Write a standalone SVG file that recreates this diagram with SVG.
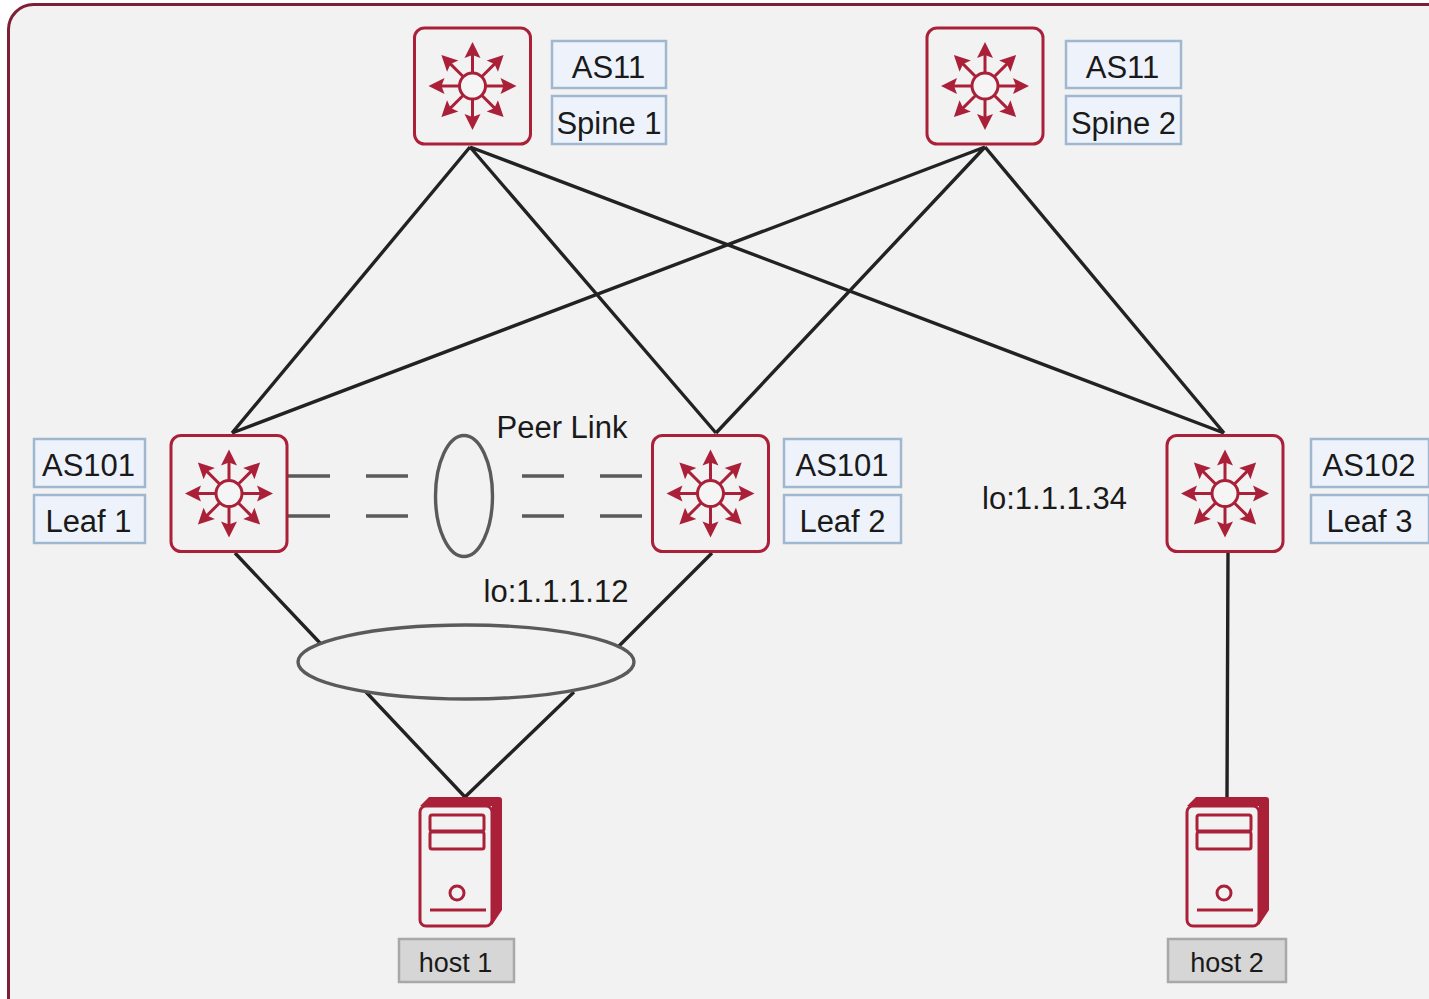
<svg xmlns="http://www.w3.org/2000/svg" width="1429" height="999" viewBox="0 0 1429 999">
<style>
text{font-family:"Liberation Sans",Arial,sans-serif;fill:#1a1a1a;text-anchor:middle}
.l{font-size:31px}
.h{font-size:27px}
.lb{fill:#eef3fb;stroke:#a0b8cf;stroke-width:2.5}
.hb{fill:#d6d6d6;stroke:#a8a8a8;stroke-width:2.5}
.c{fill:none;stroke:#222;stroke-width:3.4}
.g{fill:none;stroke:#5a5a5a;stroke-width:3.4}
.r{fill:none;stroke:#aa2039;stroke-width:3}
</style>
<defs>
<g id="ar"><path d="M13 0H32" fill="none" stroke="#aa2039" stroke-width="3"/><path d="M44 0L28 -8L31 0L28 8Z" fill="#aa2039"/></g>
<g id="sw">
<rect class="r" x="-58" y="-58" width="116" height="116" rx="10"/>
<circle r="13" fill="#f5f5f5" stroke="#aa2039" stroke-width="3"/>
<use href="#ar"/>
<use href="#ar" transform="rotate(45)"/>
<use href="#ar" transform="rotate(90)"/>
<use href="#ar" transform="rotate(135)"/>
<use href="#ar" transform="rotate(180)"/>
<use href="#ar" transform="rotate(225)"/>
<use href="#ar" transform="rotate(270)"/>
<use href="#ar" transform="rotate(315)"/>
</g>
<g id="srv">
<path d="M0 -9L9 -18H79Q82 -18 82 -15V95L72 110V-9Z" fill="#aa2039"/>
<rect x="0" y="-9" width="72" height="120" rx="6" fill="#f2f2f2" stroke="#aa2039" stroke-width="3"/>
<rect class="r" x="10" y="0" width="54" height="16" rx="2"/>
<rect class="r" x="10" y="17" width="54" height="17" rx="2"/>
<circle class="r" cx="37" cy="78" r="7"/>
<path class="r" d="M10 95H66"/>
</g>
</defs>
<rect x="8.500" y="4.500" width="1460" height="1030" rx="25" fill="#f2f2f2" stroke="#7d1f35" stroke-width="3"/>
<g id="connectors">
<path class="c" d="M470 147L232 433M470 147L716 433M470 147L1224 433M985 147L232 433M985 147L716 433M985 147L1224 433"/>
<path class="c" d="M235 553L320 643M712 553L619 646M366 692L465 797M574 692L465 797M1228 553L1227 797"/>
<path class="g" d="M288 476H330M366 476H408M522 476H564M600 476H642M288 516H330M366 516H408M522 516H564M600 516H642"/>
</g>
<g id="peer-link"><ellipse class="g" cx="464" cy="496" rx="28.500" ry="60.500"/><text class="l" x="562" y="438">Peer Link</text></g>
<g id="bundle"><ellipse cx="466" cy="662" rx="168" ry="37" fill="#f2f2f2" stroke="#5a5a5a" stroke-width="3.4"/></g>
<g id="spine1"><use href="#sw" x="472.500" y="86"/><rect class="lb" x="552" y="41" width="114" height="47"/><text class="l" x="608.500" y="78">AS11</text><rect class="lb" x="552" y="96" width="114" height="48"/><text class="l" x="609" y="134">Spine 1</text></g>
<g id="spine2"><use href="#sw" x="985" y="86"/><rect class="lb" x="1066" y="41" width="115" height="47"/><text class="l" x="1122.500" y="78">AS11</text><rect class="lb" x="1066" y="96" width="115" height="48"/><text class="l" x="1123.500" y="134">Spine 2</text></g>
<g id="leaf1"><use href="#sw" x="229" y="493.500"/><rect class="lb" x="34" y="439" width="111" height="48"/><text class="l" x="88.500" y="476">AS101</text><rect class="lb" x="34" y="495" width="111" height="48"/><text class="l" x="88.500" y="532">Leaf 1</text></g>
<g id="leaf2"><use href="#sw" x="710.500" y="493.500"/><rect class="lb" x="784" y="439" width="117" height="48"/><text class="l" x="842" y="476">AS101</text><rect class="lb" x="784" y="495" width="117" height="48"/><text class="l" x="842.500" y="532">Leaf 2</text></g>
<g id="leaf3"><use href="#sw" x="1225" y="493.500"/><rect class="lb" x="1311" y="439" width="118" height="48"/><text class="l" x="1369" y="476">AS102</text><rect class="lb" x="1311" y="495" width="118" height="48"/><text class="l" x="1369.500" y="532">Leaf 3</text></g>
<text class="l" x="556" y="602">lo:1.1.1.12</text>
<text class="l" x="1054.500" y="509">lo:1.1.1.34</text>
<g id="host1"><use href="#srv" x="420" y="815"/><rect class="hb" x="399" y="939" width="115" height="43"/><text class="h" x="455.500" y="972">host 1</text></g>
<g id="host2"><use href="#srv" x="1187" y="815"/><rect class="hb" x="1168" y="939" width="118" height="43"/><text class="h" x="1227" y="972">host 2</text></g>
</svg>
